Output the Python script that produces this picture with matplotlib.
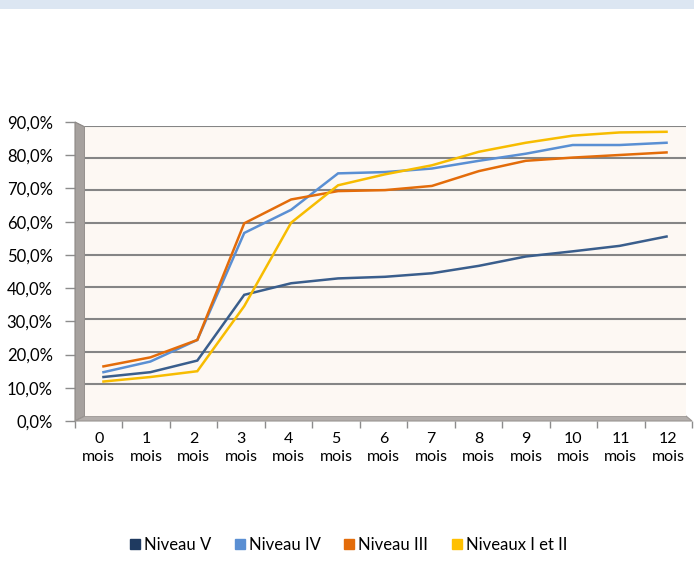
import numpy as np
import matplotlib
matplotlib.use("Agg")
import matplotlib.pyplot as plt
from matplotlib.patches import Polygon, Rectangle
from matplotlib.lines import Line2D

plt.rcParams['font.family'] = ['Lato', 'DejaVu Sans']

# data (share, %)
mois = ["0\nmois", "1\nmois", "2\nmois", "3\nmois", "4\nmois", "5\nmois", "6\nmois",
        "7\nmois", "8\nmois", "9\nmois", "10\nmois", "11\nmois", "12\nmois"]
niveau_v = [12.1, 13.6, 17.2, 37.6, 41.2, 42.7, 43.2, 44.3, 46.6, 49.5, 51.1, 52.8, 55.7]
niveau_iv = [13.6, 16.9, 23.6, 56.8, 64.0, 75.3, 75.7, 76.8, 79.2, 81.4, 84.1, 84.1, 84.8]
niveau_iii = [15.4, 18.2, 23.6, 59.8, 67.2, 69.8, 70.1, 71.4, 76.0, 79.2, 80.2, 81.0, 81.8]
niveaux_i_ii = [10.7, 12.1, 13.9, 34.1, 60.0, 71.6, 75.0, 77.8, 82.0, 84.8, 87.0, 88.0, 88.2]
y_ticks = [0, 10, 20, 30, 40, 50, 60, 70, 80, 90]

series = [("Niveau V", niveau_v, "#3A5E8C", "#1F3A60"),
          ("Niveau IV", niveau_iv, "#5A8FD3", "#5A8FD3"),
          ("Niveau III", niveau_iii, "#E36C0A", "#E36C0A"),
          ("Niveaux I et II", niveaux_i_ii, "#F7BC00", "#FFC000")]

W, H = 694, 570
fig = plt.figure(figsize=(W / 100, H / 100), dpi=100)


def box(x0, y0, x1, y1):
    # pixel box (top-left origin) -> figure fraction rect
    return [x0 / W, 1 - y1 / H, (x1 - x0) / W, (y1 - y0) / H]


# background / 3d frame drawn in pixel space
bg = fig.add_axes([0, 0, 1, 1], zorder=0)
bg.set_xlim(0, W)
bg.set_ylim(H, 0)
bg.axis("off")
bg.add_patch(Rectangle((0, 0), W, 9, color="#DCE6F2", lw=0))
bg.add_patch(Polygon([(75, 122), (85, 127), (85, 416), (75, 421)], closed=True,
                     facecolor="#A6A19E", edgecolor="#8C8784", lw=0.8))
bg.add_patch(Polygon([(75, 421), (85, 416), (686, 416), (692, 421)], closed=True,
                     facecolor="#B3AEAB", edgecolor="#9A9592", lw=0.8))

# back wall with gridlines
wall = fig.add_axes(box(85, 126, 686, 416), zorder=1)
wall.set_facecolor("#FDF8F3")
wall.set_xlim(0, 1)
wall.set_ylim(0, 90)
for v in y_ticks[1:]:
    wall.axhline(v, color="#858585", lw=1.5)
wall.set_xticks([])
wall.set_yticks([])
for s in wall.spines.values():
    s.set_visible(False)

# front axes: ticks and labels
front = fig.add_axes(box(75, 122, 692, 421), zorder=2)
front.patch.set_visible(False)
front.set_xlim(-0.5, 12.5)
front.set_ylim(0, 90)
front.set_yticks(y_ticks)
front.set_yticklabels(["%d,0%%" % v for v in y_ticks], fontsize=12)
front.set_xticks(np.arange(len(mois)))
front.set_xticklabels(mois, fontsize=11.5, linespacing=1.35)
front.set_xticks(np.arange(-0.5, 13, 1), minor=True)
front.tick_params(axis="x", which="major", length=0, pad=8)
front.tick_params(axis="x", which="minor", length=5, color="#8C8C8C", width=1)
front.tick_params(axis="y", length=7, color="#8C8C8C", width=1, pad=9)
for s in ["top", "right", "left", "bottom"]:
    front.spines[s].set_visible(False)

# data lines
ax = fig.add_axes(box(80, 126, 690, 416), zorder=3)
ax.patch.set_visible(False)
ax.set_xlim(-0.5, 12.5)
ax.set_ylim(0, 90)
ax.axis("off")
x = np.arange(len(mois))
for name, vals, c, _ in series:
    ax.plot(x, vals, color=c, lw=1.8, solid_joinstyle="miter")

handles = [Line2D([], [], marker="s", ls="", markersize=7.5, color=lc, label=name)
           for name, _, _, lc in series]
fig.legend(handles=handles, loc="center", bbox_to_anchor=(0.5, 1 - 545 / H),
           ncol=4, frameon=False, fontsize=12, handletextpad=0.05,
           columnspacing=1.2, handlelength=1.0)

fig.savefig("out.png", dpi=100)
